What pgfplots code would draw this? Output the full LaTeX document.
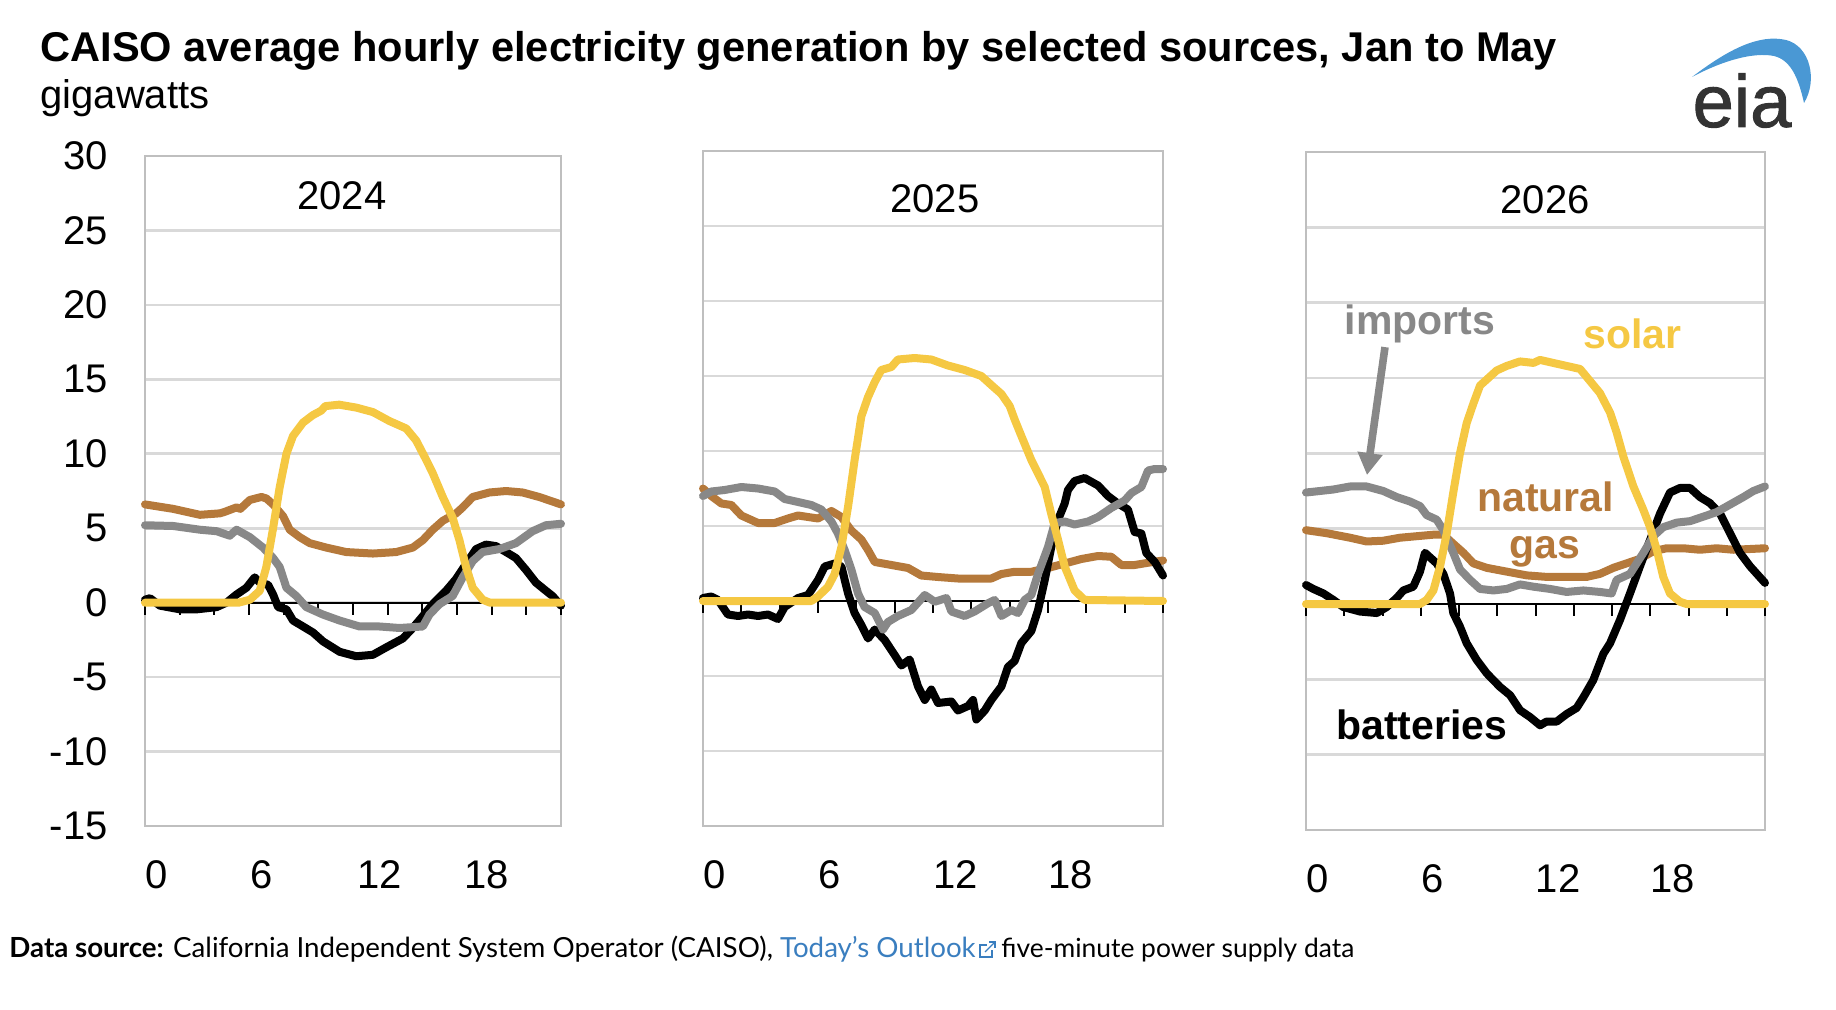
\documentclass[border=0pt]{standalone}
\usepackage{fontspec}
\setmainfont{Liberation Sans}
\newfontfamily\footfont{Lato}
\newfontfamily\eiafont[FakeBold=1.3]{Liberation Sans}
\usepackage{pgfplots}
\pgfplotsset{compat=1.18}
\usetikzlibrary{arrows.meta}
\definecolor{solarc}{HTML}{F5C843}
\definecolor{gasc}{HTML}{B5793B}
\definecolor{impc}{HTML}{888888}
\definecolor{framec}{HTML}{BFBFBF}
\definecolor{gridc}{HTML}{D9D9D9}
\definecolor{eiablue}{HTML}{4A98D4}
\definecolor{eiagray}{HTML}{333333}
\definecolor{linkblue}{HTML}{3A7EBF}
\pgfplotsset{
  panel/.style={
    scale only axis, clip=false,
    xmin=0, xmax=24, ymin=-15, ymax=30,
    axis line style={draw=framec, line width=1.3pt},
    ytick={-15,-10,...,30},
    ymajorgrids, grid style={draw=gridc, line width=1.3pt},
    major tick length=0pt,
    xtick={0,6,12,18},
    xticklabels={0,6,12,18},
    xticklabel style={anchor=north west, inner sep=0pt, yshift=-17pt, font=\fontsize{20}{24}\selectfont},
    yticklabels={},
  },
}
\newcommand{\zeroaxis}{%
  \addplot[black, line width=1pt, forget plot] coordinates {(0,0) (24,0)};
  \pgfplotsinvokeforeach{0,2,...,24}{\draw[black, line width=1pt] (axis cs:##1,0) -- ++(0pt,-6pt);}
}
\begin{document}
\begin{tikzpicture}
\useasboundingbox (0,0) rectangle (918pt,-505pt);
% titles
\node[anchor=base west, inner sep=0pt, font=\bfseries\fontsize{20.8}{24}\selectfont] at (20pt,-31pt) {CAISO average hourly electricity generation by selected sources, Jan to May};
\node[anchor=base west, inner sep=0pt, font=\fontsize{20}{24}\selectfont] at (20pt,-54.5pt) {gigawatts};

% ---------- 2024 ----------
\begin{axis}[panel, at={(72.5pt,-413pt)}, anchor=south west, width=208pt, height=335pt,
  xtick={0,6.05,12.25,18.4},
  yticklabels={-15,-10,-5,0,5,10,15,20,25,30},
  yticklabel style={anchor=east, inner sep=0pt, xshift=-18.5pt, font=\fontsize{20}{24}\selectfont}]
\zeroaxis
\addplot[gasc, line width=4pt, line join=round, line cap=round] coordinates {(0,6.6) (1.63,6.3) (3.17,5.9) (4.32,6.0) (4.6,6.1) (5.28,6.4) (5.5,6.3) (6.05,6.9) (6.72,7.1) (7.0,7.0) (7.39,6.6) (7.97,5.8) (8.35,4.9) (8.93,4.4) (9.5,4.0) (10.46,3.7) (11.61,3.4) (13.15,3.3) (14.49,3.4) (15.45,3.7) (16.03,4.2) (16.6,4.9) (17.18,5.5) (17.95,6.0) (18.33,6.4) (18.91,7.1) (19.87,7.4) (20.83,7.5) (21.79,7.4) (22.74,7.1) (24,6.6)};
\addplot[black, line width=4pt, line join=round, line cap=round] coordinates {(0,0.2) (0.29,0.3) (0.86,-0.2) (2.02,-0.45) (2.98,-0.45) (4.13,-0.3) (4.7,0) (5.28,0.55) (5.85,1.0) (6.33,1.7) (6.62,1.35) (7.1,1.2) (7.39,0.55) (7.68,-0.3) (8.16,-0.45) (8.54,-1.2) (9.12,-1.6) (9.69,-2.0) (10.27,-2.6) (11.23,-3.3) (12.19,-3.6) (13.15,-3.5) (13.92,-3.0) (14.88,-2.4) (15.45,-1.7) (16.03,-0.9) (16.6,-0.1) (17.37,0.8) (17.95,1.6) (18.52,2.6) (19.1,3.6) (19.67,3.9) (20.25,3.8) (20.83,3.4) (21.4,3.0) (21.98,2.2) (22.55,1.35) (23.13,0.8) (23.51,0.45) (24,-0.2)};
\addplot[impc, line width=4pt, line join=round, line cap=round] coordinates {(0,5.2) (1.63,5.15) (3.17,4.9) (4.13,4.8) (4.89,4.5) (5.28,4.9) (6.05,4.4) (6.81,3.7) (7.39,3.0) (7.77,2.4) (8.16,1.0) (8.73,0.45) (9.31,-0.3) (10.27,-0.8) (11.23,-1.2) (12.38,-1.6) (13.53,-1.6) (14.68,-1.7) (16.03,-1.6) (16.41,-0.8) (16.99,-0.1) (17.75,0.45) (18.33,1.7) (18.91,2.8) (19.48,3.4) (20.44,3.6) (21.4,4.0) (22.36,4.8) (23.13,5.2) (24,5.3)};
\addplot[solarc, line width=4pt, line join=round, line cap=round] coordinates {(0,0) (5.4,0) (6.05,0.2) (6.62,0.8) (7.0,2.4) (7.39,5.0) (7.77,7.75) (8.16,10.0) (8.54,11.2) (9.12,12.1) (9.69,12.6) (10.17,12.9) (10.4,13.2) (11.2,13.3) (12.2,13.1) (13.15,12.8) (14.1,12.2) (15.07,11.7) (15.64,10.9) (16.22,9.6) (16.6,8.7) (17.18,7.1) (17.75,5.7) (18.14,4.2) (18.52,2.4) (18.91,1.0) (19.48,0.2) (19.9,0) (24,0)};
\end{axis}

% ---------- 2025 ----------
\begin{axis}[panel, at={(351.5pt,-413pt)}, anchor=south west, width=230pt, height=337.5pt]
\zeroaxis
\addplot[gasc, line width=4pt, line join=round, line cap=round] coordinates {(0,7.5) (0.43,7.0) (0.96,6.5) (1.48,6.4) (2.0,5.7) (2.87,5.2) (3.74,5.2) (4.43,5.5) (4.96,5.7) (5.48,5.6) (6.0,5.5) (6.70,6.0) (7.22,5.6) (7.74,4.7) (8.26,4.1) (8.61,3.4) (8.96,2.6) (9.83,2.4) (10.70,2.2) (11.39,1.7) (12.26,1.6) (13.30,1.5) (14.17,1.5) (15.04,1.5) (15.57,1.8) (16.26,1.95) (17.13,1.95) (18.0,2.2) (18.87,2.5) (19.74,2.8) (20.61,3.0) (21.30,2.95) (21.83,2.4) (22.52,2.4) (23.22,2.55) (24,2.7)};
\addplot[black, line width=4pt, line join=round, line cap=round] coordinates {(0,0.2) (0.43,0.3) (0.78,0.07) (1.30,-0.9) (1.83,-1.0) (2.35,-0.9) (2.87,-1.0) (3.39,-0.9) (3.91,-1.2) (4.26,-0.4) (4.96,0.2) (5.48,0.4) (6.0,1.4) (6.35,2.3) (6.87,2.5) (7.22,2.3) (7.57,0.5) (7.91,-0.8) (8.26,-1.6) (8.61,-2.5) (8.96,-1.9) (9.48,-2.6) (10.0,-3.6) (10.35,-4.3) (10.78,-3.9) (11.22,-5.7) (11.57,-6.6) (11.91,-5.9) (12.26,-6.8) (12.96,-6.7) (13.30,-7.3) (13.83,-7.0) (14.09,-6.6) (14.26,-7.9) (14.70,-7.3) (15.04,-6.6) (15.57,-5.7) (15.91,-4.4) (16.26,-4.0) (16.61,-2.8) (17.13,-2.0) (17.48,-0.6) (17.83,1.4) (18.17,3.6) (18.52,5.4) (18.87,6.5) (19.04,7.4) (19.39,8.0) (19.91,8.2) (20.61,7.7) (21.13,7.0) (21.65,6.5) (22.17,6.1) (22.52,4.6) (22.87,4.5) (23.13,3.2) (23.57,2.6) (24,1.7)};
\addplot[impc, line width=4pt, line join=round, line cap=round] coordinates {(0,7.0) (0.43,7.3) (1.13,7.4) (2.0,7.6) (2.87,7.5) (3.74,7.3) (4.26,6.8) (4.96,6.6) (5.65,6.4) (6.17,6.1) (6.70,5.3) (7.04,4.5) (7.39,3.4) (7.74,2.1) (8.09,0.5) (8.43,-0.4) (8.96,-0.8) (9.39,-1.9) (9.65,-1.4) (10.17,-1.0) (10.87,-0.6) (11.57,0.4) (12.09,-0.05) (12.70,0.2) (12.96,-0.7) (13.65,-1.0) (14.17,-0.7) (14.87,-0.15) (15.22,0.07) (15.57,-1.0) (16.09,-0.6) (16.43,-0.8) (16.78,0.07) (17.13,0.4) (17.48,1.8) (18.0,3.6) (18.35,5.2) (18.87,5.3) (19.39,5.1) (20.09,5.3) (20.61,5.6) (21.30,6.2) (22.0,6.7) (22.35,7.2) (22.87,7.6) (23.22,8.7) (23.57,8.8) (24,8.8)};
\addplot[solarc, line width=4pt, line join=round, line cap=round] coordinates {(0,0) (5.65,0) (6.0,0.3) (6.52,0.95) (6.87,1.8) (7.22,3.6) (7.57,6.3) (7.91,9.4) (8.26,12.3) (8.61,13.6) (8.96,14.6) (9.30,15.4) (9.83,15.6) (10.17,16.1) (11.04,16.2) (11.91,16.1) (12.78,15.7) (13.65,15.4) (14.52,15.0) (15.04,14.4) (15.57,13.8) (16.0,13.0) (16.26,12.1) (16.61,11.0) (17.13,9.4) (17.48,8.5) (17.83,7.6) (18.17,5.8) (18.52,4.1) (18.87,2.3) (19.39,0.7) (19.91,0.07) (24,0)};
\end{axis}

% ---------- 2026 ----------
\begin{axis}[panel, at={(653pt,-415pt)}, anchor=south west, width=229.5pt, height=339pt]
\zeroaxis
\addplot[gasc, line width=4pt, line join=round, line cap=round] coordinates {(0,4.9) (1.08,4.7) (2.30,4.4) (3.17,4.15) (4.04,4.2) (4.92,4.4) (5.79,4.5) (6.66,4.6) (7.18,4.6) (7.70,4.0) (8.23,3.4) (8.75,2.7) (9.45,2.4) (10.49,2.15) (11.54,1.9) (12.58,1.8) (13.63,1.8) (14.68,1.8) (15.37,2.0) (16.07,2.4) (16.77,2.7) (17.46,3.0) (18.16,3.5) (18.86,3.7) (19.73,3.7) (20.60,3.6) (21.47,3.7) (22.34,3.6) (23.22,3.65) (24,3.7)};
\addplot[black, line width=4pt, line join=round, line cap=round] coordinates {(0,1.26) (0.38,1.0) (0.91,0.7) (1.43,0.27) (1.95,-0.2) (2.82,-0.5) (3.70,-0.6) (4.22,-0.2) (4.74,0.4) (5.09,0.9) (5.61,1.15) (5.96,2.15) (6.22,3.4) (6.48,3.1) (6.83,2.7) (7.18,2.0) (7.53,0.7) (7.70,-0.6) (8.05,-1.5) (8.40,-2.6) (8.92,-3.7) (9.45,-4.6) (10.14,-5.5) (10.67,-6.05) (11.19,-7.05) (11.71,-7.5) (12.24,-8.05) (12.58,-7.8) (13.11,-7.8) (13.63,-7.3) (14.15,-6.9) (14.50,-6.2) (15.02,-5.05) (15.55,-3.3) (15.90,-2.6) (16.42,-1.05) (16.94,0.7) (17.46,2.5) (17.99,4.25) (18.51,6.0) (19.03,7.4) (19.55,7.7) (20.08,7.7) (20.60,7.1) (21.12,6.7) (21.65,6.0) (22.17,4.7) (22.69,3.4) (23.22,2.5) (24,1.4)};
\addplot[impc, line width=4pt, line join=round, line cap=round] coordinates {(0,7.4) (0.73,7.5) (1.43,7.6) (2.30,7.8) (3.17,7.8) (4.04,7.5) (4.74,7.1) (5.44,6.8) (5.96,6.5) (6.31,5.9) (6.83,5.6) (7.18,4.9) (7.70,3.4) (8.05,2.3) (8.58,1.6) (9.10,1.0) (9.80,0.9) (10.49,1.0) (11.19,1.3) (11.89,1.15) (12.76,1.0) (13.63,0.8) (14.50,0.9) (15.37,0.8) (15.98,0.7) (16.24,1.6) (16.94,2.0) (17.64,3.4) (18.16,4.5) (18.68,5.1) (19.38,5.4) (20.08,5.5) (20.78,5.8) (21.47,6.1) (22.17,6.6) (22.87,7.1) (23.39,7.5) (24,7.8)};
\addplot[solarc, line width=4pt, line join=round, line cap=round] coordinates {(0,0) (5.96,0) (6.31,0.27) (6.66,0.9) (7.01,2.5) (7.36,4.7) (7.70,7.4) (8.05,10.0) (8.40,12.0) (8.75,13.3) (9.10,14.5) (9.45,14.9) (9.97,15.5) (10.49,15.8) (11.19,16.1) (11.89,16.0) (12.24,16.2) (12.93,16.0) (13.63,15.8) (14.33,15.6) (14.85,14.8) (15.37,14.0) (15.90,12.7) (16.24,11.4) (16.59,9.8) (17.12,7.8) (17.64,6.25) (17.99,5.1) (18.34,3.6) (18.68,1.8) (19.03,0.7) (19.55,0.15) (19.90,0) (24,0)};
\draw[impc, line width=3.8pt, -{Triangle[width=12pt,length=11pt]}] (axis cs:4.13,17.05) -- (axis cs:3.19,8.56);
\end{axis}

% year labels
\node[font=\fontsize{20}{24}\selectfont, inner sep=0pt] at (171pt,-98pt) {2024};
\node[font=\fontsize{20}{24}\selectfont, inner sep=0pt] at (467.5pt,-99.5pt) {2025};
\node[font=\fontsize{20}{24}\selectfont, inner sep=0pt] at (772.5pt,-99.75pt) {2026};

% annotations
\node[anchor=base, inner sep=0pt, font=\bfseries\fontsize{20.5}{24}\selectfont, text=impc] at (710pt,-167.5pt) {imports};
\node[anchor=base, inner sep=0pt, font=\bfseries\fontsize{20.5}{24}\selectfont, text=solarc] at (816.25pt,-174.2pt) {solar};
\node[anchor=base, inner sep=0pt, font=\bfseries\fontsize{20.5}{24}\selectfont, text=gasc] at (772.75pt,-255.8pt) {natural};
\node[anchor=base, inner sep=0pt, font=\bfseries\fontsize{20.5}{24}\selectfont, text=gasc] at (772.5pt,-279.2pt) {gas};
\node[anchor=base, inner sep=0pt, font=\bfseries\fontsize{20.5}{24}\selectfont, text=black] at (710.8pt,-369.7pt) {batteries};

% eia logo
\begin{scope}[x=1pt,y=1pt]
\fill[eiablue] (846,-38.5) .. controls (865,-24) and (880,-17) .. (893,-20) .. controls (905,-23) and (909,-40) .. (902,-51.5) .. controls (899,-38) and (895,-30) .. (887,-28) .. controls (877,-26) and (862,-30) .. (846,-38.5) -- cycle;
\end{scope}
\node[anchor=base, inner sep=0pt, font=\eiafont\fontsize{37}{40}\selectfont, text=eiagray] at (871pt,-63.5pt) {eia};

% footer
\node[anchor=base west, inner sep=0pt, font=\footfont\fontsize{13.85}{16}\selectfont] (f1) at (4.5pt,-478.5pt) {\textbf{Data source:} California Independent System Operator (CAISO), \textcolor{linkblue}{Today’s Outlook}};
\draw[linkblue, line width=0.6pt] ([shift={(5.5pt,6pt)}]f1.base east) -- ([shift={(2pt,6pt)}]f1.base east) -- ([shift={(2pt,0pt)}]f1.base east) -- ([shift={(8pt,0pt)}]f1.base east) -- ([shift={(8pt,3.5pt)}]f1.base east);
\draw[linkblue, line width=0.6pt] ([shift={(4.5pt,2.5pt)}]f1.base east) -- ([shift={(9.5pt,7.5pt)}]f1.base east);
\draw[linkblue, line width=0.6pt] ([shift={(6.5pt,7.5pt)}]f1.base east) -- ([shift={(9.5pt,7.5pt)}]f1.base east) -- ([shift={(9.5pt,4.5pt)}]f1.base east);
\node[anchor=base west, inner sep=0pt, font=\footfont\fontsize{13.2}{16}\selectfont] at ([xshift=12.5pt]f1.base east) {five-minute power supply data};
\end{tikzpicture}
\end{document}
